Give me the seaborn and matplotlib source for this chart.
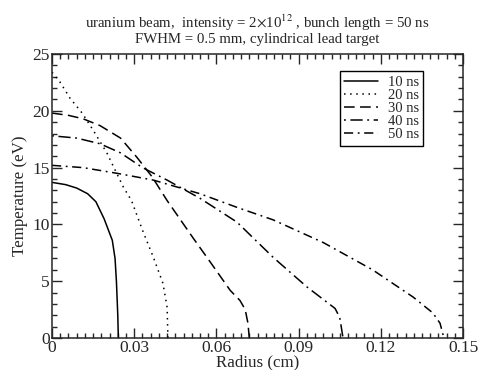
import numpy as np
import pandas as pd
import matplotlib
matplotlib.use("Agg")
import matplotlib.pyplot as plt
import seaborn as sns
from matplotlib.ticker import MultipleLocator

sns.set_style("ticks")
plt.rcParams['font.family'] = ['Liberation Serif', 'DejaVu Serif']
plt.rcParams['mathtext.fontset'] = 'stix'

labels = ["10 ns", "20 ns", "30 ns", "40 ns", "50 ns"]
x_ticks = [0, 0.03, 0.06, 0.09, 0.12, 0.15]
x_tick_labels = ["0", "0.03", "0.06", "0.09", "0.12", "0.15"]
y_ticks = [0, 5, 10, 15, 20, 25]

r_10 = [0, 0.005, 0.009, 0.013, 0.016, 0.019, 0.022, 0.023, 0.0235, 0.024, 0.0242]
t_10 = [13.7, 13.5, 13.2, 12.7, 12.0, 10.5, 8.6, 7.0, 5.0, 2.0, 0.0]

r_20 = [0, 0.003, 0.0066, 0.011, 0.015, 0.02, 0.026, 0.029, 0.033, 0.037, 0.0405, 0.042, 0.0423]
t_20 = [23.4, 22.5, 21.1, 19.8, 18.3, 16.3, 13.3, 12.1, 9.5, 7.1, 4.8, 2.7, 0.0]

r_30 = [0, 0.006, 0.0113, 0.0175, 0.025, 0.031, 0.0365, 0.042, 0.0515, 0.058, 0.065, 0.0686, 0.0705, 0.0715, 0.072]
t_30 = [19.8, 19.6, 19.3, 18.7, 17.6, 15.9, 14.2, 12.1, 8.8, 6.6, 4.2, 3.3, 2.5, 1.3, 0.0]

r_40 = [0, 0.009, 0.0175, 0.025, 0.033, 0.042, 0.054, 0.0675, 0.0807, 0.093, 0.1033, 0.105, 0.1062]
t_40 = [17.8, 17.6, 17.1, 16.3, 15.0, 13.9, 12.3, 10.2, 7.1, 4.5, 2.6, 1.8, 0.0]

r_50 = [0, 0.0113, 0.0237, 0.037, 0.054, 0.0675, 0.0807, 0.099, 0.117, 0.1318, 0.139, 0.1416, 0.143]
t_50 = [15.2, 15.0, 14.5, 13.9, 12.7, 11.5, 10.4, 8.4, 6.0, 3.6, 2.2, 1.3, 0.0]

radii = [r_10, r_20, r_30, r_40, r_50]
temps = [t_10, t_20, t_30, t_40, t_50]

styles = ["-", (0, (1, 3)), (0, (7, 3.5)), (0, (1.2, 3, 8, 3)), (0, (6, 3, 1.2, 3))]

fig = plt.figure(figsize=(4.83, 3.70), dpi=100)
ax = fig.add_axes([0.1077, 0.0865, 0.851, 0.7675])

for lab, r, t, ls in zip(labels, radii, temps, styles):
    df = pd.DataFrame({"Radius (cm)": r, "Temperature (eV)": t})
    sns.lineplot(data=df, x="Radius (cm)", y="Temperature (eV)", ax=ax,
                 sort=False, color="black", lw=1.1, linestyle=ls, label=lab)

ax.set_xlim(0, 0.15)
ax.set_ylim(0, 25)
ax.set_xticks(x_ticks, x_tick_labels)
ax.set_yticks(y_ticks)
ax.xaxis.set_minor_locator(MultipleLocator(0.003))
ax.yaxis.set_minor_locator(MultipleLocator(1))
ax.tick_params(which="both", direction="in", top=True, right=True, width=1.0,
               labelsize=12.5, pad=1.5)
ax.tick_params(which="major", length=7)
ax.tick_params(which="minor", length=3.5)
for s in ax.spines.values():
    s.set_linewidth(1.1)
ax.set_xlabel("Radius (cm)", fontsize=12.2, labelpad=-1.5)
ax.set_ylabel("Temperature (eV)", fontsize=12.2, labelpad=3)

ax.set_title("uranium beam,  intensity = 2$\\times$10$^{12}$ , bunch length = 50 ns\nFWHM = 0.5 mm, cylindrical lead target",
             fontsize=10.7, linespacing=1.0, pad=8)

leg = ax.legend(loc="upper left", bbox_to_anchor=(0.70, 0.94), frameon=True,
                fancybox=False, edgecolor="black", framealpha=1, fontsize=10.5,
                handlelength=2.3, handletextpad=0.7, labelspacing=0.0,
                borderpad=0.3, borderaxespad=0)
leg.get_frame().set_linewidth(1.0)

fig.savefig("out.png", dpi=100)
